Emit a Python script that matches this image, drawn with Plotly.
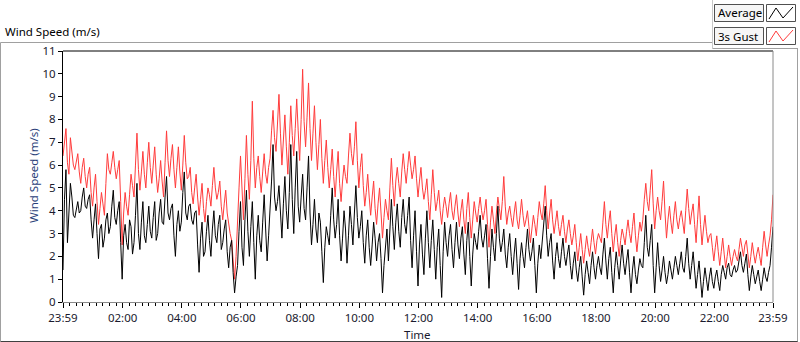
import plotly.graph_objects as go
import pandas as pd

# ---------------- data (3-minute samples) ----------------
start_time = "2000-01-01 23:59"
step = "3min"

avg_speed = [
    1.4, 4.5, 5.8, 2.6, 3.9, 5.2, 4.6, 3.8, 3.7, 4.1, 4.4, 3.9, 4.0, 4.6, 5.0, 4.2, 4.1, 4.5, 4.7, 3.6,
    2.8, 3.6, 4.3, 3.0, 1.9, 3.2, 3.4, 2.4, 2.8, 3.6, 3.9, 3.0, 3.3, 4.2, 4.9, 3.7, 3.4, 4.0, 4.4, 2.6,
    1.0, 2.9, 3.4, 2.6, 2.3, 3.6, 3.3, 2.1, 2.6, 3.8, 5.2, 3.0, 2.3, 3.5, 4.4, 2.9, 2.6, 3.4, 4.2, 3.1,
    2.8, 3.7, 4.4, 2.7, 3.0, 3.9, 4.5, 3.5, 3.4, 4.6, 5.5, 3.9, 3.6, 4.1, 4.3, 2.9, 2.0, 3.4, 4.0, 3.1,
    3.5, 4.8, 5.7, 3.9, 3.6, 4.2, 4.3, 3.6, 3.4, 3.9, 4.0, 2.5, 1.3, 2.8, 3.5, 2.0, 2.2, 3.1, 3.8, 2.7,
    2.0, 3.2, 4.0, 2.9, 2.6, 3.4, 3.8, 2.3, 2.6, 3.2, 3.6, 2.2, 1.5, 2.4, 2.7, 1.3, 0.4, 1.1, 1.6, 3.1,
    4.4, 2.4, 1.6, 3.6, 4.9, 3.1, 2.0, 3.3, 4.4, 2.6, 1.0, 2.9, 3.8, 2.7, 2.2, 3.5, 4.7, 3.2, 1.8, 2.9,
    4.0, 5.3, 6.9, 4.6, 4.0, 4.4, 5.1, 3.9, 2.8, 4.3, 5.5, 4.0, 3.2, 4.8, 6.9, 4.5, 3.0, 5.0, 6.6, 4.2,
    3.5, 4.6, 5.6, 4.1, 3.6, 5.0, 6.4, 3.9, 2.5, 3.4, 4.5, 3.2, 2.6, 3.9, 3.5, 2.2, 0.85, 2.4, 3.3, 2.9,
    2.5, 3.8, 5.0, 3.6, 2.8, 3.4, 4.5, 2.9, 1.8, 2.8, 4.0, 3.2, 1.7, 2.9, 4.2, 3.4, 2.5, 3.9, 5.1, 3.7,
    2.8, 3.3, 4.0, 2.6, 1.7, 2.9, 3.6, 2.4, 1.6, 2.5, 3.5, 2.8, 1.8, 2.6, 3.0, 1.9, 0.4, 1.6, 2.4, 3.2,
    1.8, 3.0, 4.5, 3.3, 2.3, 3.5, 4.3, 3.1, 2.4, 3.7, 4.5, 3.4, 3.0, 3.8, 4.6, 2.7, 1.5, 2.9, 4.0, 2.2,
    0.7, 2.5, 3.4, 2.1, 1.2, 2.8, 4.0, 2.6, 1.5, 2.7, 3.6, 2.3, 1.0, 2.4, 3.2, 1.6, 0.2, 2.2, 3.5, 2.6,
    2.0, 2.9, 3.4, 2.3, 1.5, 2.6, 3.5, 2.5, 1.9, 2.8, 3.3, 2.1, 1.2, 2.7, 3.5, 2.0, 0.7, 2.1, 3.0, 2.6,
    2.3, 3.1, 3.8, 2.8, 2.4, 2.9, 3.4, 1.9, 0.6, 2.0, 3.2, 2.4, 1.8, 3.0, 4.2, 2.8, 2.2, 2.6, 3.2, 2.1,
    1.5, 2.4, 3.0, 2.0, 1.2, 2.1, 2.8, 1.7, 0.55, 1.9, 2.6, 2.0, 1.5, 2.4, 3.2, 2.3, 1.8, 2.2, 2.8, 1.6,
    0.4, 1.7, 2.5, 1.9, 2.6, 3.3, 4.2, 2.9, 2.0, 2.6, 3.0, 1.8, 1.0, 2.0, 2.6, 1.9, 1.5, 2.2, 2.8, 2.0,
    1.6, 2.1, 2.5, 1.6, 1.0, 1.7, 2.2, 1.4, 0.9, 1.5, 2.0, 1.1, 0.3, 1.2, 1.8, 1.3, 0.8, 1.6, 2.2, 1.5,
    1.0, 1.6, 2.0, 1.5, 1.2, 2.1, 2.8, 1.8, 1.0, 1.9, 2.4, 1.3, 0.4, 1.5, 2.2, 1.6, 1.0, 1.8, 2.5, 1.7,
    1.2, 1.8, 2.3, 1.3, 0.4, 1.4, 2.0, 1.2, 0.8, 1.4, 1.9, 1.6, 1.5, 2.6, 3.8, 2.4, 2.0, 2.7, 3.4, 1.6,
    0.4, 1.5, 2.6, 1.6, 0.9, 1.4, 2.0, 1.3, 0.8, 1.2, 1.8, 1.4, 1.0, 1.5, 2.0, 1.6, 1.2, 1.7, 2.2, 1.5,
    1.3, 2.0, 2.8, 1.7, 1.0, 1.6, 2.2, 1.4, 0.6, 1.2, 1.8, 1.0, 0.2, 0.9, 1.5, 1.0, 0.5, 1.1, 1.5, 0.9,
    0.6, 1.1, 1.4, 0.9, 0.5, 1.2, 1.6, 1.3, 1.0, 1.5, 1.7, 1.2, 1.1, 1.4, 1.6, 1.3, 1.4, 1.8, 2.2, 1.6,
    1.3, 1.7, 2.1, 1.2, 0.5, 1.1, 1.6, 1.2, 0.8, 1.1, 1.4, 0.9, 0.5, 1.0, 1.5, 1.1, 0.9, 1.3, 1.6, 2.4,
    3.3,
]

gust_speed = [
    6.4, 7.0, 7.6, 6.1, 5.6, 7.2, 6.6, 6.0, 5.8, 6.2, 6.5, 5.7, 5.2, 5.9, 6.3, 5.5, 5.0, 5.6, 5.9, 4.8,
    4.2, 5.0, 5.6, 4.4, 3.4, 4.1, 4.8, 4.3, 3.8, 5.2, 6.5, 5.8, 5.6, 6.1, 6.6, 5.9, 5.4, 5.8, 6.2, 4.4,
    2.5, 3.9, 4.8, 4.2, 3.8, 4.7, 5.6, 5.1, 4.6, 6.0, 7.4, 5.8, 4.9, 5.7, 6.6, 5.6, 5.0, 6.1, 7.0, 5.9,
    5.2, 6.0, 6.8, 5.6, 4.8, 5.4, 6.2, 5.3, 4.6, 6.1, 7.5, 6.2, 5.5, 6.3, 6.9, 5.8, 5.0, 5.9, 6.8, 5.7,
    4.9, 6.0, 7.3, 6.1, 5.4, 5.5, 5.9, 4.8, 4.3, 5.0, 5.6, 4.6, 3.8, 4.5, 5.2, 4.1, 3.5, 4.4, 5.0, 4.7,
    4.2, 5.1, 5.9, 5.0, 4.5, 4.8, 5.3, 4.2, 3.6, 4.3, 4.9, 3.9, 3.4, 3.0, 2.7, 1.8, 1.0, 2.0, 3.2, 5.0,
    6.4, 4.7, 3.6, 5.4, 7.3, 5.6, 4.5, 6.2, 8.8, 6.3, 5.0, 5.9, 6.4, 5.5, 4.8, 5.7, 6.5, 5.6, 5.2, 5.9,
    6.3, 7.5, 8.4, 7.2, 6.6, 7.8, 9.1, 7.4, 6.0, 7.1, 8.2, 6.8, 5.6, 7.0, 8.6, 7.3, 6.4, 7.6, 8.9, 7.5,
    6.2, 8.0, 10.2, 7.9, 6.8, 8.1, 9.6, 7.6, 6.2, 7.4, 8.6, 7.0, 5.8, 6.9, 8.0, 6.3, 5.2, 6.2, 7.1, 5.9,
    5.0, 5.8, 6.7, 5.5, 4.6, 5.7, 6.6, 5.2, 4.4, 5.3, 6.0, 5.5, 5.2, 6.4, 7.4, 6.5, 6.0, 6.8, 7.9, 6.2,
    5.0, 5.9, 6.5, 5.1, 4.2, 4.8, 5.6, 4.6, 3.8, 4.6, 5.3, 4.1, 3.4, 4.3, 5.0, 3.9, 2.8, 3.7, 4.5, 4.0,
    3.6, 5.0, 6.3, 5.1, 4.2, 5.3, 5.9, 5.2, 4.6, 5.7, 6.5, 5.8, 5.2, 5.9, 6.6, 6.0, 5.4, 5.8, 6.4, 5.4,
    4.6, 5.3, 5.9, 5.0, 4.5, 4.9, 5.4, 4.4, 3.6, 4.7, 5.8, 4.8, 4.0, 4.4, 4.9, 4.0, 3.4, 4.1, 4.6, 4.2,
    3.7, 4.3, 4.8, 4.0, 3.6, 4.2, 4.7, 3.9, 3.3, 4.0, 4.5, 3.6, 3.0, 4.1, 4.8, 3.7, 2.8, 3.6, 4.4, 3.9,
    3.5, 4.1, 4.6, 4.0, 3.6, 4.0, 4.5, 3.4, 2.4, 3.5, 4.2, 3.6, 3.0, 3.9, 4.6, 4.1, 3.6, 4.4, 5.5, 4.2,
    3.4, 3.9, 4.2, 3.7, 3.3, 3.9, 4.4, 3.6, 3.2, 3.8, 4.5, 3.8, 3.3, 3.6, 4.0, 3.3, 2.6, 3.2, 3.8, 3.4,
    2.9, 3.7, 4.4, 3.9, 3.6, 4.3, 5.1, 4.0, 3.2, 3.9, 4.5, 3.6, 3.0, 3.5, 4.0, 3.3, 2.9, 3.4, 3.8, 3.1,
    2.6, 3.2, 3.6, 3.0, 2.5, 2.9, 3.4, 2.6, 1.8, 2.4, 3.0, 2.3, 1.7, 2.3, 2.9, 2.4, 2.0, 2.6, 3.2, 2.6,
    2.1, 2.7, 3.0, 2.8, 2.6, 3.5, 4.4, 3.4, 2.8, 3.5, 4.0, 3.0, 2.2, 2.9, 3.4, 2.6, 2.0, 2.7, 3.2, 2.9,
    2.5, 3.1, 3.6, 3.0, 2.6, 3.3, 3.9, 2.9, 2.2, 2.9, 3.5, 3.1, 3.6, 4.5, 5.2, 4.4, 4.0, 4.9, 5.8, 4.3,
    3.2, 4.0, 4.6, 4.0, 3.6, 4.4, 5.3, 3.9, 2.8, 3.6, 4.2, 3.5, 3.0, 3.8, 4.4, 3.6, 3.2, 3.7, 4.0, 3.5,
    3.0, 4.0, 4.95, 4.1, 3.4, 3.9, 4.3, 3.4, 2.6, 3.6, 4.65, 3.4, 2.5, 3.2, 3.8, 3.1, 2.6, 2.9, 3.0, 2.4,
    1.8, 2.4, 2.9, 2.2, 1.6, 2.2, 2.8, 2.1, 1.5, 2.0, 2.5, 2.0, 1.6, 2.0, 2.3, 2.0, 1.8, 2.3, 2.8, 2.4,
    2.0, 2.5, 2.7, 2.1, 1.5, 2.0, 2.6, 2.1, 1.7, 2.1, 2.4, 2.0, 1.6, 2.4, 3.1, 2.5, 2.0, 2.5, 2.9, 3.6,
    4.7,
]

series_names = ["Average", "3s Gust"]
series_colors = ["#000000", "#ff3b3b"]

tick_labels = ["23:59", "02:00", "04:00", "06:00", "08:00", "10:00",
               "12:00", "14:00", "16:00", "18:00", "20:00", "22:00", "23:59"]
y_ticks = list(range(0, 12))

# ---------------- build ----------------
times = pd.date_range(start_time, periods=len(avg_speed), freq=step)
t0, t1 = times[0], times[-1]
day = t0.normalize() + pd.Timedelta(days=1)
major = [t0] + [day + pd.Timedelta(hours=h) for h in range(2, 23, 2)] + [t1]
minor = []
for a, b in zip(major[:-1], major[1:]):
    for k in range(1, 9):
        minor.append(a + (b - a) * k / 9)

W, H = 800, 342
L, R, T, B = 63, 773, 51, 302


def px(x):
    return (x - L) / (R - L)


def py(y):
    return (B - y) / (B - T)


FONT = "Noto Sans"
TXT = "#1a1a2e"

fig = go.Figure()
fig.add_trace(go.Scatter(x=times, y=gust_speed, mode="lines", name=series_names[1],
                         line=dict(color=series_colors[1], width=1), showlegend=False))
fig.add_trace(go.Scatter(x=times, y=avg_speed, mode="lines", name=series_names[0],
                         line=dict(color=series_colors[0], width=1), showlegend=False))

shapes = []


def line(x0, y0, x1, y1, color, width=1):
    shapes.append(dict(type="line", xref="paper", yref="paper",
                       x0=px(x0), y0=py(y0), x1=px(x1), y1=py(y1),
                       line=dict(color=color, width=width)))


def rect(x0, y0, x1, y1, color, fill):
    shapes.append(dict(type="rect", xref="paper", yref="paper",
                       x0=px(x0), y0=py(y0), x1=px(x1), y1=py(y1),
                       line=dict(color=color, width=1), fillcolor=fill))


# outer frame
line(0.5, 42.5, 712, 42.5, "#a0a0a0")
line(0.5, 42.5, 0.5, 341.5, "#a0a0a0")
line(0.5, 341.5, 798, 341.5, "#404040")
line(797.5, 48.5, 797.5, 341.5, "#a0a0a0")
line(712.5, 0, 712.5, 48.5, "#c8c8c8")
line(712.5, 48.5, 798, 48.5, "#a0a0a0")
# plot box (sunken look)
line(L, T, R, T, "#000000")
line(R, T, R, B, "#8a8a8a")

# legend
annotations = []
for row, (name, col) in enumerate(zip(series_names, series_colors)):
    y0 = 4 + row * 23
    rect(714.5, y0 + 0.5, 763.5, y0 + 17.5, "#505050", "#f6f6f6")
    rect(766.5, y0 + 0.5, 795.5, y0 + 17.5, "#505050", "#ffffff")
    pts = [(769, y0 + 15), (776, y0 + 4), (783, y0 + 14), (793, y0 + 3)]
    path = "M " + " L ".join(f"{px(a)},{py(b)}" for a, b in pts)
    shapes.append(dict(type="path", xref="paper", yref="paper", path=path,
                       line=dict(color=col, width=1)))
    annotations.append(dict(x=px(716), y=py(y0 + 9), xref="paper", yref="paper",
                            text=name, showarrow=False, xanchor="left", yanchor="middle",
                            font=dict(family=FONT, size=11.5, color="#000000")))

annotations.append(dict(x=px(3), y=py(31), xref="paper", yref="paper",
                        text="Wind Speed (m/s)", showarrow=False, xanchor="left",
                        yanchor="middle", font=dict(family=FONT, size=11.5, color="#000000")))
annotations.append(dict(x=px(417), y=py(334), xref="paper", yref="paper",
                        text="Time", showarrow=False, xanchor="center",
                        yanchor="middle", font=dict(family=FONT, size=11.5, color=TXT)))
annotations.append(dict(x=px(33), y=py(176), xref="paper", yref="paper",
                        text="Wind Speed (m/s)", showarrow=False, textangle=-90,
                        xanchor="center", yanchor="middle",
                        font=dict(family=FONT, size=11.5, color="#2a3f7a")))

fig.update_layout(
    width=W, height=H,
    margin=dict(l=L, r=W - R, t=T, b=H - B, pad=0),
    paper_bgcolor="white", plot_bgcolor="white",
    shapes=shapes, annotations=annotations, showlegend=False,
    font=dict(family=FONT, size=11.5, color=TXT),
    xaxis=dict(
        type="date", range=[t0, t1], tickmode="array", tickvals=major, ticktext=tick_labels,
        ticks="outside", ticklen=5, tickcolor="#000000", tickwidth=1,
        showline=True, linecolor="#8a8a8a", linewidth=1, mirror=False,
        showgrid=False, zeroline=False,
        minor=dict(tickvals=minor, ticks="outside", ticklen=3, tickcolor="#000000",
                   showgrid=False),
        tickfont=dict(family=FONT, size=11.5, color=TXT),
    ),
    yaxis=dict(
        range=[0, 11], tickmode="array", tickvals=y_ticks,
        ticks="outside", ticklen=4, tickcolor="#000000",
        showline=True, linecolor="#000000", linewidth=1, mirror=False,
        showgrid=False, zeroline=False,
        tickfont=dict(family=FONT, size=11.5, color=TXT),
    ),
)

fig.write_html("out.html", config={"displayModeBar": False},
               post_script="document.body.style.margin='0px';")
